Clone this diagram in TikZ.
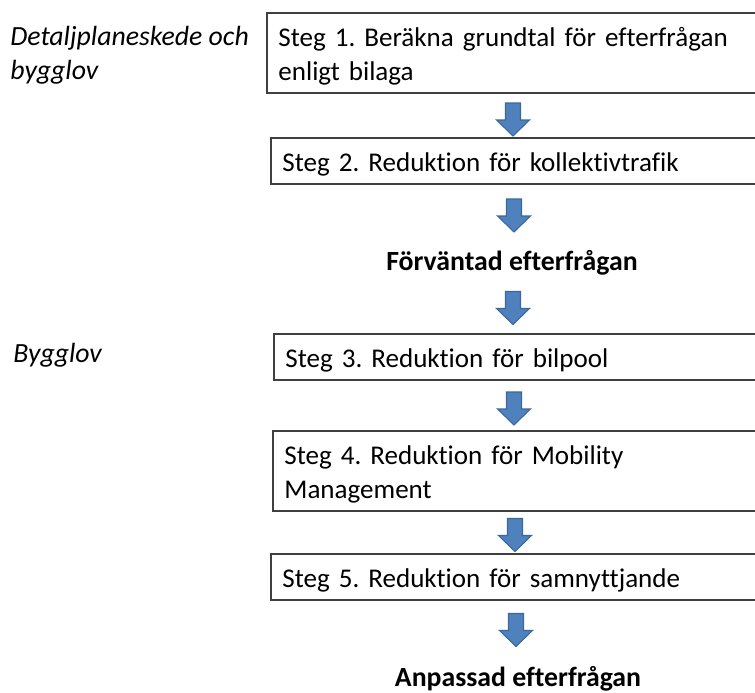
\documentclass[tikz,border=0pt]{standalone}
\usepackage{fontspec}
\setmainfont{Carlito}[Ligatures=NoCommon]
\usetikzlibrary{positioning}
\frenchspacing

\definecolor{pilblaa}{HTML}{4F81BD}
\definecolor{pilkant}{HTML}{3A679C}
\definecolor{ramgraa}{HTML}{3F3F3F}

\tikzset{
  stegbox/.style={draw=ramgraa, line width=1.1pt, rectangle, anchor=north west,
    text width=11.5cm, inner xsep=6.5pt, inner ysep=0pt, align=left,
    text height=19pt, text depth=7.1pt,
    font=\fontsize{15.4}{19.35}\selectfont},
  tvarad/.style={text depth=26.5pt},
  fastext/.style={anchor=base west, inner sep=0pt, align=left,
    font=\fontsize{15.8}{19.35}\selectfont\itshape},
  resultat/.style={anchor=base, inner sep=0pt,
    font=\fontsize{15.8}{19.35}\selectfont\bfseries},
  nedpil/.pic={
    \filldraw[fill=pilblaa, draw=pilkant, line width=0.6pt]
      (-7.5,-16.5) -- (7.5,-16.5) -- (7.5,0.5) -- (16.5,0.5) -- (0,16.5)
      -- (-16.5,0.5) -- (-7.5,0.5) -- cycle;
  }
}

\begin{document}
\begin{tikzpicture}[x=0.02cm, y=-0.02cm]
  \clip (0,0) rectangle (755,693);

  % skeden
  \node[fastext] (detalj) at (10,79) {Detaljplaneskede och\\bygglov};
  \node[fastext] (bygglov) at (13,362) {Bygglov};

  % steg
  \node[stegbox, tvarad] (s1) at (266,12)
    {Steg 1. Beräkna grundtal för efterfrågan\\enligt bilaga};
  \node[stegbox] (s2) at (270,137)
    {Steg 2. Reduktion för kollektivtrafik};
  \node[stegbox] (s3) at (273,333)
    {Steg 3. Reduktion för bilpool};
  \node[stegbox, tvarad] (s4) at (272,430)
    {Steg 4. Reduktion för Mobility\\Management};
  \node[stegbox] (s5) at (270,553)
    {Steg 5. Reduktion för samnyttjande};

  \node[resultat] (forvantad) at (512,270) {Förväntad efterfrågan};
  \node[resultat] (anpassad) at (518,686) {Anpassad efterfrågan};

  % pilar
  \pic (p1) at (513,119.5) {nedpil};
  \pic (p2) at (514,215.5) {nedpil};
  \pic (p3) at (513,308) {nedpil};
  \pic (p4) at (514,408.5) {nedpil};
  \pic (p5) at (515,535) {nedpil};
  \pic (p6) at (516,630) {nedpil};
\end{tikzpicture}
\end{document}
